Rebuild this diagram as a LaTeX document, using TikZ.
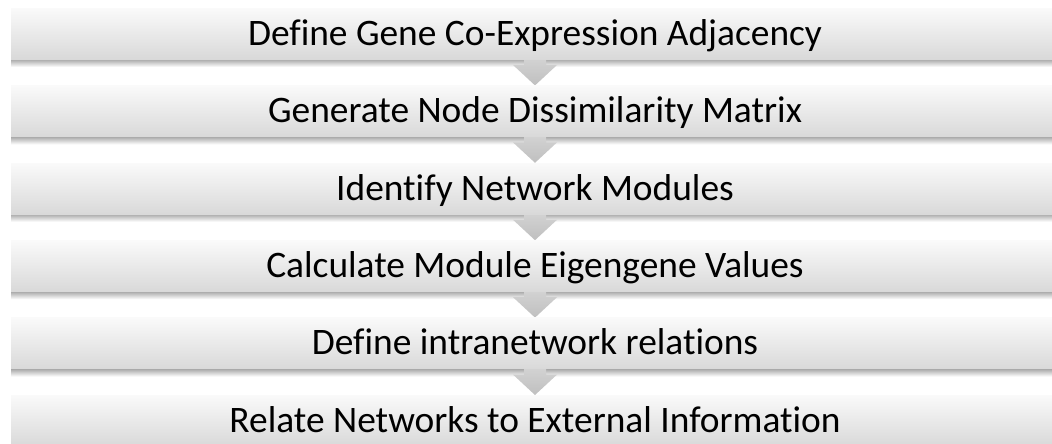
\documentclass[tikz,border=0pt]{standalone}
\usepackage{fontspec}
\setmainfont{Carlito}[Ligatures=CommonOff]
\begin{document}
\begin{tikzpicture}[x=1pt,y=1pt,
  stepbox/.style={rectangle, inner sep=0pt, minimum width=1048pt, minimum height=51pt,
    top color=black!2, bottom color=black!15, text=black,
    font=\fontsize{37.4}{44}\selectfont, text height=30pt, text depth=7pt},
  boxshadow/.style={top color=black!40, bottom color=white},
  flowarrow/.style={top color=black!17, bottom color=black!25, draw=none}]
\useasboundingbox (0,0) rectangle (1052,-444);
\clip (0,0) rectangle (1052,-444);

% step boxes (top edges at 8, 85.4, 162.8, 240.2, 317.6, 395)
\foreach \i/\t in {1/8, 2/85.4, 3/162.8, 4/240.2, 5/317.6, 6/395}{
  \shade[boxshadow] (11,-\t-50) rectangle (1059,-\t-59);
  \coordinate (top\i) at (535,-\t);
}

% connector arrows between consecutive steps
\foreach \a/\b in {1/2, 2/3, 3/4, 4/5, 5/6}{
  \path (top\a) ++(0,-51) coordinate (bot\a);
  \shade[flowarrow] ([xshift=-11pt,yshift=2pt]bot\a) -- ([xshift=-11pt,yshift=-6pt]bot\a)
    -- ([xshift=-22pt,yshift=-6pt]bot\a) -- (top\b) -- ([xshift=22pt,yshift=-6pt]bot\a)
    -- ([xshift=11pt,yshift=-6pt]bot\a) -- ([xshift=11pt,yshift=2pt]bot\a) -- cycle;
}

\node[stepbox, anchor=north] (s1) at (top1) {Define Gene Co-Expression Adjacency};
\node[stepbox, anchor=north] (s2) at (top2) {Generate Node Dissimilarity Matrix};
\node[stepbox, anchor=north] (s3) at (top3) {Identify Network Modules};
\node[stepbox, anchor=north] (s4) at (top4) {Calculate Module Eigengene Values};
\node[stepbox, anchor=north] (s5) at (top5) {Define intranetwork relations};
\node[stepbox, anchor=north] (s6) at (top6) {Relate Networks to External Information};
\end{tikzpicture}
\end{document}
